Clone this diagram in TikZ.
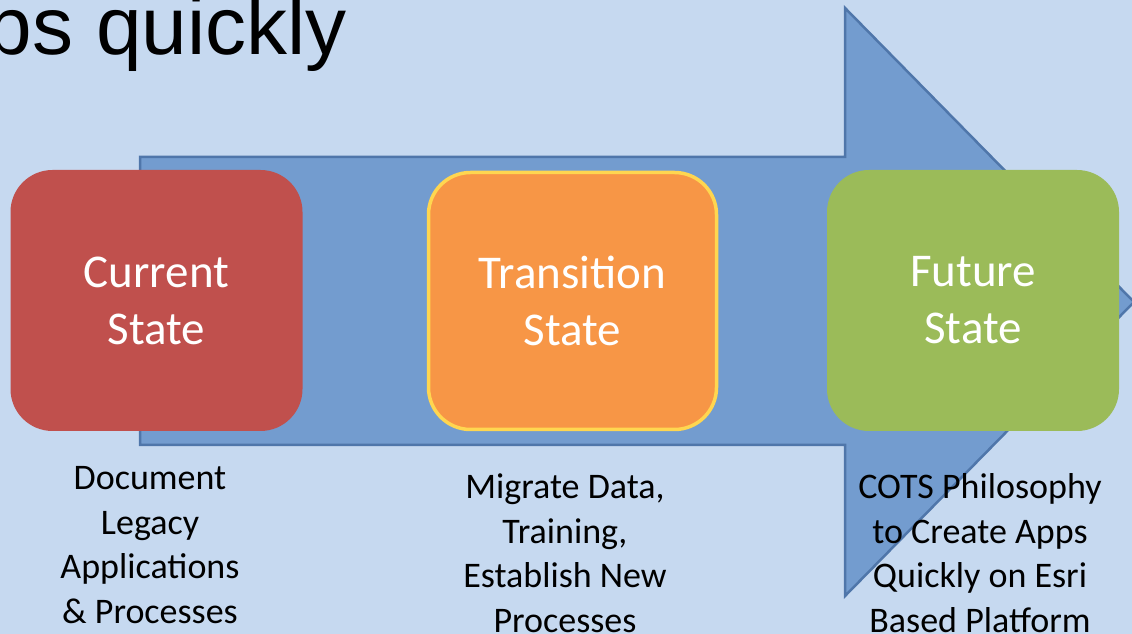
\documentclass[tikz,border=0pt]{standalone}
\usepackage{fontspec}
\newfontfamily\boxFont{Carlito}
\newfontfamily\titleFont{Liberation Sans}
\tikzset{
  stateBox/.style={rounded corners=42pt,inner sep=0pt,minimum width=292pt,minimum height=261pt,
    text=white,align=center,font=\boxFont\fontsize{47}{57}\selectfont},
  stateNote/.style={inner sep=0pt,align=center,text=black,font=\boxFont\fontsize{36}{44.5}\selectfont}
}
\begin{document}
\begin{tikzpicture}[x=1pt,y=1pt]
\definecolor{fillColor}{RGB}{198,217,240}
\path[use as bounding box,fill=fillColor] (0,0) rectangle (1132,634);
\begin{scope}
\path[clip] (0,0) rectangle (1132,634);

% title line, cut at the left edge
\node[anchor=base east,inner sep=0pt,outer sep=0pt,font=\titleFont\fontsize{82}{96}\selectfont] (title) at (347,579) {ps quickly};

% big block arrow
\definecolor{drawColor}{RGB}{79,118,170}
\definecolor{fillColor}{RGB}{115,156,207}
\path[draw=drawColor,line width=2.5pt,line join=miter,fill=fillColor] (140,477) --
	(845,477) -- (845,626) -- (1134,332) -- (845,38) -- (845,189) -- (140,189) -- cycle;

% the three states
\definecolor{currentColor}{RGB}{192,80,77}
\definecolor{transitionColor}{RGB}{247,150,70}
\definecolor{futureColor}{RGB}{155,187,89}
\definecolor{borderColor}{RGB}{255,214,80}

\node[stateBox,fill=currentColor] (current) at (156.5,333.5) {Current\\State};

\node[stateBox,fill=transitionColor,draw=borderColor,line width=3.5pt,minimum width=288pt,minimum height=257pt] (transition) at (572.5,333) {Transition\\State};

\node[stateBox,fill=futureColor] (future) at (973,333.5) {Future\\State};

% notes under each state
\node[stateNote] (currentNote) at (150,89) {Document\\Legacy\\Applications\\\& Processes};

\node[stateNote] (transitionNote) at (565,81) {Migrate Data,\\Training,\\Establish New\\Processes};

\node[stateNote] (futureNote) at (980,81) {COTS Philosophy\\to Create Apps\\Quickly on Esri\\Based Platform};
\end{scope}
\end{tikzpicture}
\end{document}
